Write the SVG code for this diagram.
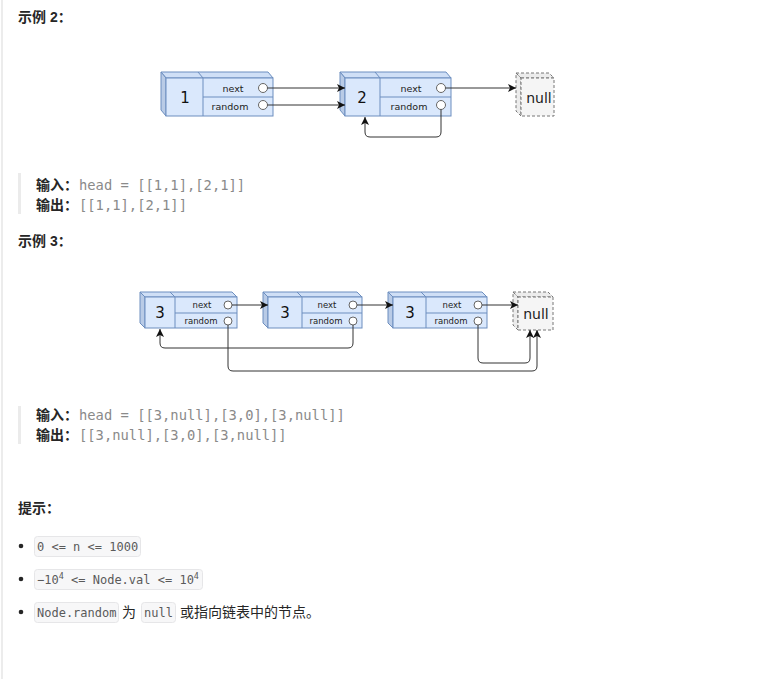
<svg xmlns="http://www.w3.org/2000/svg" width="761" height="679" viewBox="0 0 761 679">
<style>
.h{font-family:"Liberation Sans","Noto Sans CJK SC",sans-serif;font-weight:bold;font-size:14px;fill:#262626}
.cn{font-family:"Liberation Sans","Noto Sans CJK SC",sans-serif;font-size:14px;fill:#262626}
.mono{font-family:"DejaVu Sans Mono",monospace;font-size:13.8px;fill:#8a8a8a}
.code{font-family:"DejaVu Sans Mono",monospace;font-size:12px;fill:#5a5a5a}
.cbox{fill:#f7f7f8;stroke:#e6e6e8;stroke-width:1}
.front{fill:#dae8fc;stroke:#6c8ebf;stroke-width:1}
.top{fill:#cfdff6;stroke:#6c8ebf;stroke-width:1}
.side{fill:#b9cbe6;stroke:#6c8ebf;stroke-width:1}
.nfront{fill:#f5f5f5;stroke:#777;stroke-width:1;stroke-dasharray:3 2}
.ntop{fill:#ececec;stroke:#777;stroke-width:1;stroke-dasharray:3 2}
.div{stroke:#6c8ebf;stroke-width:1;fill:none}
.val{font-family:"DejaVu Sans",sans-serif;font-size:15px;fill:#111;text-anchor:middle;dominant-baseline:central}
.f1{font-family:"DejaVu Sans",sans-serif;font-size:9.5px;fill:#222;text-anchor:middle;dominant-baseline:central}
.f2{font-family:"DejaVu Sans",sans-serif;font-size:8.5px;fill:#222;text-anchor:middle;dominant-baseline:central}
.nul{font-family:"DejaVu Sans",sans-serif;font-size:14px;fill:#222;text-anchor:middle;dominant-baseline:central}
.port{fill:#fff;stroke:#666;stroke-width:1}
.edge{fill:none;stroke:#333;stroke-width:1;marker-end:url(#arr)}
</style>
<defs>
<marker id="arr" markerWidth="9" markerHeight="8" refX="8" refY="4" orient="auto" markerUnits="userSpaceOnUse">
<path d="M0,0 L8,4 L0,8 L2,4 z" fill="#111"/>
</marker>
</defs>
<rect x="0" y="0" width="761" height="679" fill="#fff"/>
<rect x="1" y="0" width="2" height="679" fill="#ececec"/>

<text class="h" x="18" y="22">示例 2：</text>

<g id="d1n1">
<polygon class="top" points="161,72 268,72 273,78 166,78"/>
<polygon class="side" points="161,72 166,78 166,116 161,110"/>
<rect class="front" x="166" y="78" width="107" height="38"/>
<line class="div" x1="198" y1="72" x2="203" y2="78"/>
<line class="div" x1="203" y1="78" x2="203" y2="116"/>
<line class="div" x1="203" y1="97" x2="273" y2="97"/>
<text class="val" x="185" y="98">1</text>
<text class="f1" x="233" y="88">next</text>
<text class="f1" x="230" y="106">random</text>
<circle class="port" cx="263" cy="88" r="4.5"/>
<circle class="port" cx="263" cy="105" r="4.5"/>
</g>
<g id="d1n2">
<polygon class="top" points="340,72 446,72 451,78 345,78"/>
<polygon class="side" points="340,72 345,78 345,116 340,110"/>
<rect class="front" x="345" y="78" width="106" height="38"/>
<line class="div" x1="375" y1="72" x2="380" y2="78"/>
<line class="div" x1="380" y1="78" x2="380" y2="116"/>
<line class="div" x1="380" y1="97" x2="451" y2="97"/>
<text class="val" x="362" y="98">2</text>
<text class="f1" x="411" y="88">next</text>
<text class="f1" x="409" y="106">random</text>
<circle class="port" cx="441" cy="88" r="4.5"/>
<circle class="port" cx="441" cy="105" r="4.5"/>
</g>
<g id="d1null">
<polygon class="ntop" points="516,73 549,73 554,78 521,78"/>
<polygon class="ntop" points="516,73 521,78 521,116 516,111"/>
<rect class="nfront" x="521" y="78" width="33" height="38"/>
<text class="nul" x="539" y="98">null</text>
</g>

<text class="h" x="18" y="246">示例 3：</text>

<g id="d2n1">
<polygon class="top" points="140,292 232,292 237,297 145,297"/>
<polygon class="side" points="140,292 145,297 145,328 140,323"/>
<rect class="front" x="145" y="297" width="92" height="31"/>
<line class="div" x1="170" y1="292" x2="175" y2="297"/>
<line class="div" x1="175" y1="297" x2="175" y2="328"/>
<line class="div" x1="175" y1="313" x2="237" y2="313"/>
<text class="val" x="160" y="313">3</text>
<text class="f2" x="202" y="305">next</text>
<text class="f2" x="201" y="321">random</text>
<circle class="port" cx="228" cy="305" r="4"/>
<circle class="port" cx="228" cy="321" r="4"/>
</g>
<g id="d2n2">
<polygon class="top" points="263,292 357,292 362,297 268,297"/>
<polygon class="side" points="263,292 268,297 268,328 263,323"/>
<rect class="front" x="268" y="297" width="94" height="31"/>
<line class="div" x1="297" y1="292" x2="302" y2="297"/>
<line class="div" x1="302" y1="297" x2="302" y2="328"/>
<line class="div" x1="302" y1="313" x2="362" y2="313"/>
<text class="val" x="285" y="313">3</text>
<text class="f2" x="327" y="305">next</text>
<text class="f2" x="326" y="321">random</text>
<circle class="port" cx="353" cy="305" r="4"/>
<circle class="port" cx="353" cy="321" r="4"/>
</g>
<g id="d2n3">
<polygon class="top" points="388,292 482,292 487,297 393,297"/>
<polygon class="side" points="388,292 393,297 393,328 388,323"/>
<rect class="front" x="393" y="297" width="94" height="31"/>
<line class="div" x1="421" y1="292" x2="426" y2="297"/>
<line class="div" x1="426" y1="297" x2="426" y2="328"/>
<line class="div" x1="426" y1="313" x2="487" y2="313"/>
<text class="val" x="410" y="313">3</text>
<text class="f2" x="452" y="305">next</text>
<text class="f2" x="451" y="321">random</text>
<circle class="port" cx="478" cy="305" r="4"/>
<circle class="port" cx="478" cy="321" r="4"/>
</g>
<g id="d2null">
<polygon class="ntop" points="513,292 548,292 553,297 518,297"/>
<polygon class="ntop" points="513,292 518,297 518,330 513,325"/>
<rect class="nfront" x="518" y="297" width="35" height="33"/>
<text class="nul" x="536" y="314">null</text>
</g>

<g id="connectors">
<line class="edge" x1="267.5" y1="88" x2="345" y2="88"/>
<line class="edge" x1="267.5" y1="105" x2="345" y2="105"/>
<line class="edge" x1="445.5" y1="88" x2="516" y2="88"/>
<path class="edge" d="M441,109.5 V132 Q441,137 436,137 H370 Q365,137 365,132 V117"/>
<line class="edge" x1="232" y1="305" x2="268" y2="305"/>
<line class="edge" x1="357" y1="305" x2="393" y2="305"/>
<line class="edge" x1="482" y1="305" x2="518" y2="305"/>
<path class="edge" d="M228,325 V366 Q228,371 233,371 H532 Q537,371 537,366 V330"/>
<path class="edge" d="M353,325 V343 Q353,348 348,348 H165 Q160,348 160,343 V329"/>
<path class="edge" d="M478,325 V358 Q478,363 483,363 H525 Q530,363 530,358 V330"/>
</g>

<rect x="18" y="173" width="3" height="41" fill="#ebebeb"/>
<text class="h" x="36" y="190">输入：</text>
<text class="mono" x="79" y="190">head = [[1,1],[2,1]]</text>
<text class="h" x="36" y="210">输出：</text>
<text class="mono" x="79" y="210">[[1,1],[2,1]]</text>

<rect x="18" y="406" width="3" height="38" fill="#ebebeb"/>
<text class="h" x="36" y="420">输入：</text>
<text class="mono" x="79" y="420">head = [[3,null],[3,0],[3,null]]</text>
<text class="h" x="36" y="440">输出：</text>
<text class="mono" x="79" y="440">[[3,null],[3,0],[3,null]]</text>

<text class="h" x="18" y="513">提示：</text>

<circle cx="21" cy="546" r="2.3" fill="#262626"/>
<rect class="cbox" x="34.5" y="536.5" width="106" height="20" rx="3"/>
<text class="code" x="37" y="551">0 &lt;= n &lt;= 1000</text>

<circle cx="21" cy="579" r="2.3" fill="#262626"/>
<rect class="cbox" x="34.5" y="569.5" width="168" height="20" rx="3"/>
<text class="code" x="37" y="584">−10<tspan font-size="8.5" dy="-5">4</tspan><tspan dy="5"> &lt;= Node.val &lt;= 10</tspan><tspan font-size="8.5" dy="-5">4</tspan></text>

<circle cx="21" cy="612" r="2.3" fill="#262626"/>
<rect class="cbox" x="34.5" y="602.5" width="84" height="20" rx="3"/>
<text class="code" x="37" y="617">Node.random</text>
<text class="cn" x="122" y="617">为</text>
<rect class="cbox" x="141.5" y="602.5" width="34" height="20" rx="3"/>
<text class="code" x="144" y="617">null</text>
<text class="cn" x="180" y="617">或指向链表中的节点。</text>
</svg>
